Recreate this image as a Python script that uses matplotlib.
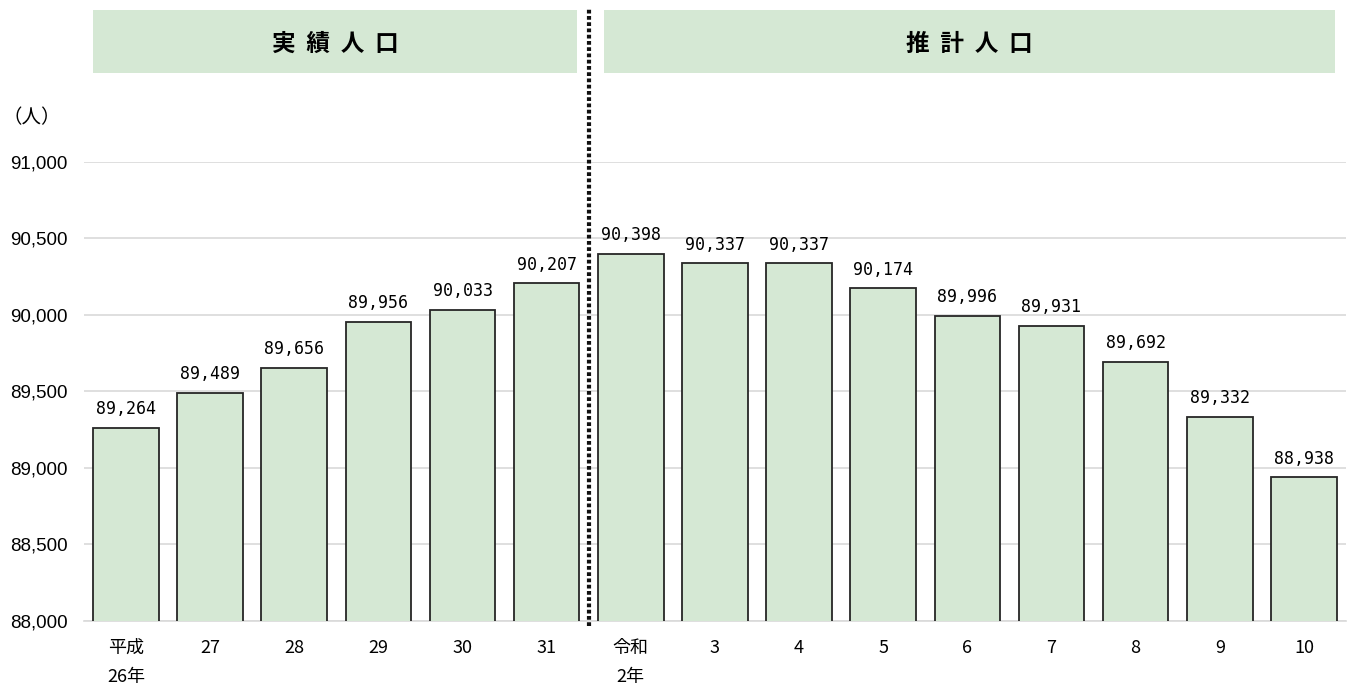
import matplotlib
matplotlib.use("Agg")
import matplotlib.pyplot as plt
import matplotlib.transforms as mtransforms
from matplotlib.patches import Rectangle

plt.rcParams['font.family'] = ['Noto Sans CJK JP', 'DejaVu Sans']

# Population by fiscal year (actual: 平成26年–31年, projected: 令和2年–10年)
categories = ["平成\n26年", "27", "28", "29", "30", "31",
              "令和\n2年", "3", "4", "5", "6", "7", "8", "9", "10"]
population = [89264, 89489, 89656, 89956, 90033, 90207,
              90398, 90337, 90337, 90174, 89996, 89931, 89692, 89332, 88938]
y_ticks = [88000, 88500, 89000, 89500, 90000, 90500, 91000]
section_titles = ["実 績 人 口", "推 計 人 口"]
n_actual = 6

bar_color = "#d5e8d4"
header_color = "#d5e8d4"
edge_color = "#262626"
grid_color = "#d9d9d9"

fig = plt.figure(figsize=(13.56, 6.91), dpi=100)
ax = fig.add_axes([0.0619, 0.1013, 0.9307, 0.6643])

x = list(range(len(categories)))
ax.bar(x, population, width=0.78, color=bar_color, edgecolor=edge_color,
       linewidth=1.3, zorder=3)

ax.set_xlim(-0.5, len(categories) - 0.5)
ax.set_ylim(y_ticks[0], y_ticks[-1])
ax.set_yticks(y_ticks)
ax.set_yticklabels([f"{v:,}" for v in y_ticks], fontsize=13.5,
                   family=["Liberation Sans", "DejaVu Sans"])
ax.yaxis.grid(True, color=grid_color, linewidth=1.2, zorder=0)
ax.set_axisbelow(True)
ax.tick_params(axis='y', length=0, pad=12)
ax.tick_params(axis='x', length=0, pad=13)
ax.set_xticks(x)
ax.set_xticklabels(categories, fontsize=13, linespacing=1.75)
for lbl in ax.get_xticklabels():
    lbl.set_verticalalignment('top')
for side in ["left", "right", "top"]:
    ax.spines[side].set_visible(False)
ax.spines["bottom"].set_color(grid_color)
ax.spines["bottom"].set_linewidth(1.2)

for xi, v in zip(x, population):
    ax.annotate(f"{v:,}", (xi, v), xytext=(0, 7), textcoords="offset points",
                ha="center", va="bottom", fontsize=12,
                family=["DejaVu Sans Mono"], zorder=4)

# Unit label
fig.text(0.002, 1 - 118 / 691, "（人）", fontsize=14, ha="left", va="center")

# Divider between actual and projected values
trans = mtransforms.blended_transform_factory(ax.transData, fig.transFigure)
ax.plot([n_actual - 0.5, n_actual - 0.5], [0.094, 0.988], transform=trans,
        color="#111111", linestyle=(0, (0.9, 0.6)), linewidth=3,
        clip_on=False, zorder=5)

# Section headers
boxes = [(93, 577), (604, 1335)]
for (x0, x1), title in zip(boxes, section_titles):
    fx0, fx1 = x0 / 1356, x1 / 1356
    y0, y1 = 1 - 73 / 691, 1 - 10 / 691
    fig.add_artist(Rectangle((fx0, y0), fx1 - fx0, y1 - y0,
                             transform=fig.transFigure, facecolor=header_color,
                             edgecolor="none"))
    fig.text((fx0 + fx1) / 2, (y0 + y1) / 2 - 0.004, title.replace(" ", "  "),
             fontsize=17, fontweight="bold", ha="center", va="center")

fig.savefig("out.png", dpi=100)
